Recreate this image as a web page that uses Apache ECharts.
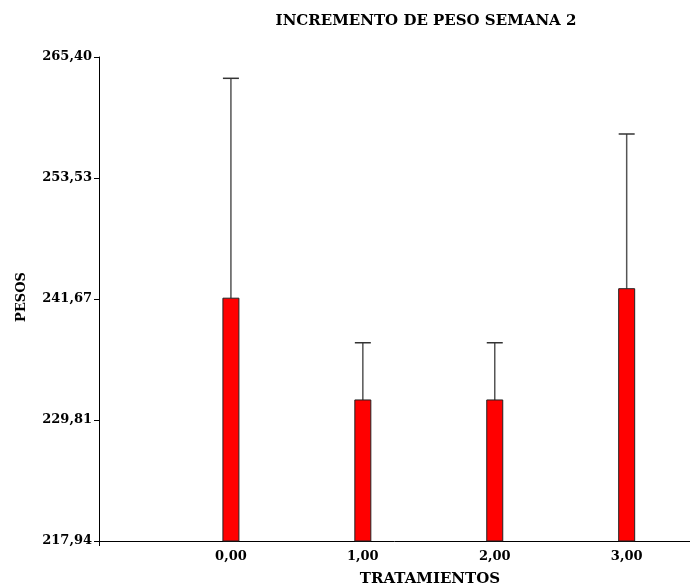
<!DOCTYPE html>
<html><head><meta charset="utf-8">
<script src="https://cdn.jsdelivr.net/npm/echarts@6/dist/echarts.min.js"></script>
<style>html,body{margin:0;padding:0;background:#fff}#c{width:690px;height:583px}</style>
</head><body><div id="c"></div>
<script>
const categories = [0, 1, 2, 3];
const categoryLabels = ['0,00', '1,00', '2,00', '3,00'];
const means = [241.75, 231.77, 231.77, 242.68];
const upperErr = [263.31, 237.38, 237.38, 257.85];
const yTicks = [217.94, 229.81, 241.67, 253.53, 265.40];
const yTickLabels = ['217,94', '229,81', '241,67', '253,53', '265,40'];
const yMin = 217.94, yMax = 265.40;

const font = '"DejaVu Serif",serif';
const chart = echarts.init(document.getElementById('c'));
chart.setOption({
  animation: false,
  grid: {left: 99, top: 57, right: 0, bottom: 42, containLabel: false},
  xAxis: {
    type: 'value', min: -1, max: 3.48, interval: 1,
    axisLine: {onZero: false, lineStyle: {color: '#000', width: 1}},
    axisTick: {show: true, customValues: [-1], length: 5, lineStyle: {color: '#000'}},
    axisLabel: {customValues: categories, formatter: v => categoryLabels[categories.indexOf(v)],
      color: '#000', fontFamily: font, fontWeight: 'bold', fontSize: 13, margin: 9},
    splitLine: {show: false}
  },
  yAxis: {
    type: 'value', min: yMin, max: yMax,
    axisLine: {show: true, onZero: false, lineStyle: {color: '#000', width: 1}},
    axisTick: {show: true, customValues: yTicks, length: 5, lineStyle: {color: '#000'}},
    axisLabel: {customValues: yTicks, formatter: v => yTickLabels[yTicks.indexOf(v)],
      color: '#000', fontFamily: font, fontWeight: 'bold', fontSize: 13, margin: 7},
    splitLine: {show: false}
  },
  graphic: [
    {type: 'text', x: 426, y: 21, style: {text: 'INCREMENTO DE PESO SEMANA 2', fill: '#000', font: 'bold 15px ' + font, align: 'center', verticalAlign: 'middle'}},
    {type: 'text', x: 430, y: 579, style: {text: 'TRATAMIENTOS', fill: '#000', font: 'bold 15px ' + font, align: 'center', verticalAlign: 'middle'}},
    {type: 'text', x: 22, y: 297, rotation: Math.PI / 2, style: {text: 'PESOS', fill: '#000', font: 'bold 13px ' + font, align: 'center', verticalAlign: 'middle'}}
  ],
  series: [
    {
      type: 'custom',
      data: categories.map((c, i) => [c, means[i], upperErr[i]]),
      renderItem: function (params, api) {
        const x = api.value(0), m = api.value(1), u = api.value(2);
        const base = api.coord([x, yMin]);
        const top = api.coord([x, m]);
        const up = api.coord([x, u]);
        const w = 16;
        return {
          type: 'group',
          children: [
            {type: 'line', shape: {x1: top[0], y1: top[1], x2: up[0], y2: up[1]}, style: {stroke: '#555', lineWidth: 1.5}},
            {type: 'line', shape: {x1: up[0] - w / 2, y1: up[1], x2: up[0] + w / 2, y2: up[1]}, style: {stroke: '#333', lineWidth: 1.5}},
            {type: 'rect', shape: {x: top[0] - w / 2, y: top[1], width: w, height: base[1] - top[1]}, style: {fill: '#ff0000', stroke: '#222', lineWidth: 1}}
          ]
        };
      }
    }
  ]
});
</script></body></html>
